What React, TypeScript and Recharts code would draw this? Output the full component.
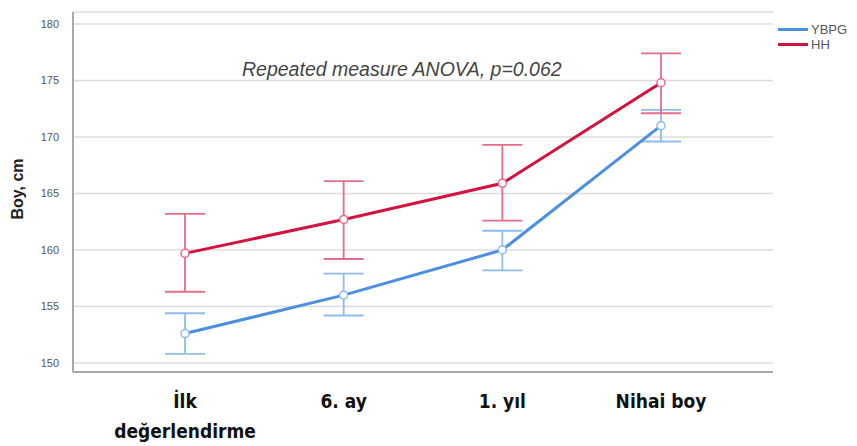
import React from 'react';
import { LineChart, Line, XAxis, YAxis, CartesianGrid, ErrorBar } from 'recharts';

const categories = ['İlk değerlendirme', '6. ay', '1. yıl', 'Nihai boy'];
const ybpgMean = [152.6, 156.0, 160.0, 171.0];
const ybpgLow = [150.8, 154.2, 158.2, 169.6];
const ybpgHigh = [154.4, 157.9, 161.7, 172.4];
const hhMean = [159.7, 162.7, 165.9, 174.8];
const hhLow = [156.3, 159.2, 162.6, 172.1];
const hhHigh = [163.2, 166.1, 169.3, 177.4];
const yTicks = [150, 155, 160, 165, 170, 175, 180];

const BLUE = '#4a8fe0';
const BLUE_LIGHT = '#8dbcef';
const RED = '#d3123f';
const RED_LIGHT = '#e46d89';

const data = categories.map((c, i) => ({
  name: c,
  ybpg: ybpgMean[i],
  ybpgErr: [+(ybpgMean[i] - ybpgLow[i]).toFixed(2), +(ybpgHigh[i] - ybpgMean[i]).toFixed(2)],
  hh: hhMean[i],
  hhErr: [+(hhMean[i] - hhLow[i]).toFixed(2), +(hhHigh[i] - hhMean[i]).toFixed(2)],
}));

const XTick = (props: any) => {
  const { x, y, payload } = props;
  const words: string[] = payload.value === 'İlk değerlendirme' ? ['İlk', 'değerlendirme'] : [payload.value];
  return (
    <g>
      {words.map((w, i) => (
        <text
          key={i}
          x={x}
          y={y + 28 + i * 30}
          textAnchor="middle"
          fontFamily="'Liberation Sans Narrow', 'DejaVu Sans Condensed', sans-serif"
          fontWeight="bold"
          fontSize={19}
          fill="#111"
        >
          {w}
        </text>
      ))}
    </g>
  );
};

const legendItems: [string, string][] = [['YBPG', BLUE], ['HH', RED]];

export default function App() {
  return (
    <div style={{ position: 'absolute', left: 0, top: 0, width: 857, height: 446, background: '#fff' }}>
      <LineChart width={857} height={446} data={data} margin={{ top: 12, right: 84, bottom: 14, left: 23 }}>
        <CartesianGrid vertical={false} stroke="#dcdcdc" strokeWidth={1.5} />
        <XAxis
          dataKey="name"
          padding={{ left: 112, right: 112 }}
          axisLine={{ stroke: '#a8a8a8', strokeWidth: 2 }}
          tickLine={false}
          tick={<XTick />}
          height={60}
          interval={0}
        />
        <YAxis
          domain={[149.2, 181.06]}
          ticks={yTicks}
          width={50}
          axisLine={{ stroke: '#a8a8a8', strokeWidth: 2 }}
          tickLine={false}
          tick={{ fontSize: 11, fill: '#555', fontFamily: 'Arial, Liberation Sans, sans-serif' }}
          tickMargin={8}
          allowDataOverflow
        />
        <Line
          dataKey="ybpg"
          stroke={BLUE}
          strokeWidth={3}
          dot={{ r: 4, stroke: BLUE_LIGHT, strokeWidth: 1.5, fill: '#fff' }}
          isAnimationActive={false}
        >
          <ErrorBar dataKey="ybpgErr" direction="y" width={20} stroke={BLUE_LIGHT} strokeWidth={1.8} isAnimationActive={false} />
        </Line>
        <Line
          dataKey="hh"
          stroke={RED}
          strokeWidth={3}
          dot={{ r: 4, stroke: RED_LIGHT, strokeWidth: 1.5, fill: '#fff' }}
          isAnimationActive={false}
        >
          <ErrorBar dataKey="hhErr" direction="y" width={20} stroke={RED_LIGHT} strokeWidth={1.8} isAnimationActive={false} />
        </Line>
      </LineChart>
      {/* legend, top right outside the plot */}
      <div
        style={{
          position: 'absolute', left: 778, top: 22, fontFamily: 'Arial, Liberation Sans, sans-serif',
          fontSize: 13, color: '#555', lineHeight: '15px',
        }}
      >
        {legendItems.map(([n, c]) => (
          <div key={n} style={{ display: 'flex', alignItems: 'center' }}>
            <span style={{ display: 'inline-block', width: 30, height: 3, background: c, marginRight: 3 }} />
            {n}
          </div>
        ))}
      </div>
      <div
        style={{
          position: 'absolute', left: 242, top: 58, fontFamily: 'Arial, Liberation Sans, sans-serif',
          fontStyle: 'italic', fontSize: 19.5, color: '#444', whiteSpace: 'nowrap',
        }}
      >
        Repeated measure ANOVA, p=0.062
      </div>
      <div
        style={{
          position: 'absolute', left: 18, top: 189, transform: 'translate(-50%, -50%) rotate(-90deg)',
          fontFamily: 'Arial, Liberation Sans, sans-serif', fontWeight: 'bold', fontSize: 16, color: '#222', whiteSpace: 'nowrap',
        }}
      >
        Boy, cm
      </div>
    </div>
  );
}
